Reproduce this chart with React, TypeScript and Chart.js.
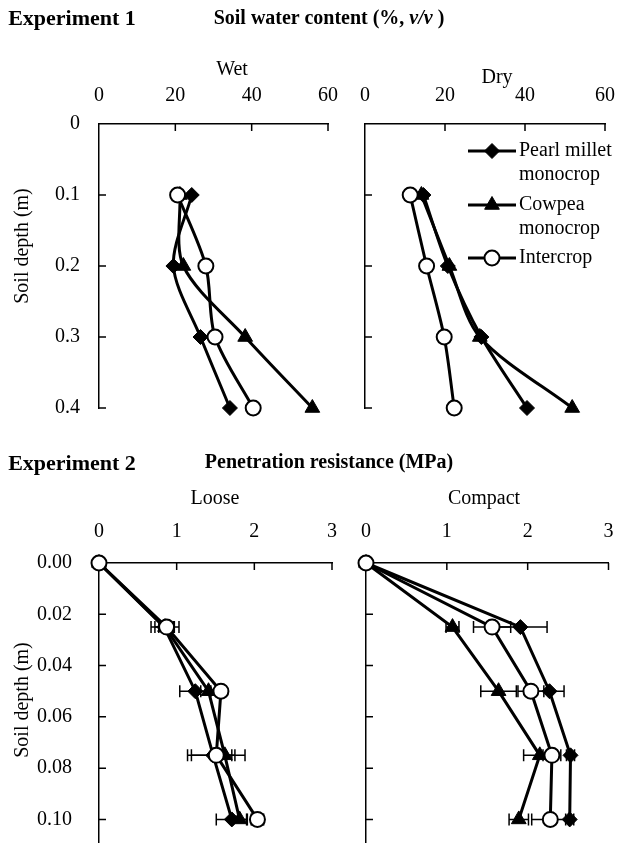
import React, { useEffect, useRef } from 'react';
import { Chart, registerables } from 'chart.js';

Chart.register(...registerables);

// ---------- DATA ----------
const seriesNames = ['Pearl millet monocrop', 'Cowpea monocrop', 'Intercrop'];
const legendLines = [['Pearl millet', 'monocrop'], ['Cowpea', 'monocrop'], ['Intercrop']];

// Experiment 1: soil water content (%, v/v) by depth (m)
const waterDepths = [0.1, 0.2, 0.3, 0.4];
const wetPearl = [24.3, 19.5, 26.6, 34.3];
const wetCowpea = [21.2, 22.1, 38.3, 55.9];
const wetInter = [20.6, 28.0, 30.4, 40.4];
const dryPearl = [14.6, 20.7, 29.1, 40.5];
const dryCowpea = [14.1, 21.1, 28.7, 51.8];
const dryInter = [11.3, 15.4, 19.8, 22.3];
const waterTicks = [0, 20, 40, 60];
const waterDepthTicks = [0, 0.1, 0.2, 0.3, 0.4];
const waterDepthLabels = ['0', '0.1', '0.2', '0.3', '0.4'];

// Experiment 2: penetration resistance (MPa) by depth (m)
const penDepths = [0, 0.025, 0.05, 0.075, 0.1];
const loosePearl = [0, 0.84, 1.24, 1.47, 1.71];
const looseCowpea = [0, 0.85, 1.41, 1.62, 1.81];
const looseInter = [0, 0.87, 1.57, 1.51, 2.04];
const loosePearlErr = [0, 0.12, 0.2, 0.28, 0.2];
const looseCowpeaErr = [0, 0.18, 0.1, 0.09, 0.09];
const looseInterErr = [0, 0.1, 0.05, 0.37, 0.08];
const compactPearl = [0, 1.91, 2.27, 2.53, 2.52];
const compactCowpea = [0, 1.07, 1.64, 2.15, 1.89];
const compactInter = [0, 1.56, 2.04, 2.3, 2.28];
const compactPearlErr = [0, 0.33, 0.18, 0.05, 0.05];
const compactCowpeaErr = [0, 0.08, 0.22, 0.2, 0.12];
const compactInterErr = [0, 0.23, 0.16, 0.11, 0.23];
const penTicks = [0, 1, 2, 3];
const penDepthTicks = [0, 0.02, 0.04, 0.06, 0.08, 0.1];
const penDepthLabels = ['0.00', '0.02', '0.04', '0.06', '0.08', '0.10'];

// ---------- STYLE ----------
const W = 618;
const H = 852;
const FONT = '"Liberation Serif", "Times New Roman", serif';

const markerStyles = [
  { pointStyle: 'rectRot', radius: 7.5, bg: '#000', bw: 1, order: 2 },
  { pointStyle: 'triangle', radius: 8.5, bg: '#000', bw: 1, order: 1 },
  { pointStyle: 'circle', radius: 7.5, bg: '#fff', bw: 2, order: 0 },
];

function drawMarker(ctx: CanvasRenderingContext2D, i: number, x: number, y: number) {
  const s = markerStyles[i];
  const r = s.radius;
  ctx.save();
  ctx.fillStyle = s.bg;
  ctx.strokeStyle = '#000';
  ctx.lineWidth = s.bw;
  ctx.beginPath();
  if (s.pointStyle === 'circle') {
    ctx.arc(x, y, r, 0, Math.PI * 2);
  } else if (s.pointStyle === 'rectRot') {
    ctx.moveTo(x, y - r);
    ctx.lineTo(x + r, y);
    ctx.lineTo(x, y + r);
    ctx.lineTo(x - r, y);
    ctx.closePath();
  } else {
    const h = r * 1.5;
    const half = (r * Math.sqrt(3)) / 2;
    ctx.moveTo(x, y - h * 0.6667);
    ctx.lineTo(x + half, y + h * 0.3333);
    ctx.lineTo(x - half, y + h * 0.3333);
    ctx.closePath();
  }
  ctx.fill();
  ctx.stroke();
  ctx.restore();
}

const innerTicksPlugin = {
  id: 'innerTicks',
  beforeDatasetsDraw(chart: any) {
    const { ctx, chartArea: a, scales } = chart;
    const x = scales.x;
    const y = scales.y;
    ctx.save();
    ctx.strokeStyle = '#000';
    ctx.lineWidth = 1.5;
    ctx.beginPath();
    x.ticks.forEach((t: any) => {
      if (t.value === x.min) return;
      const px = x.getPixelForValue(t.value);
      ctx.moveTo(px, a.top);
      ctx.lineTo(px, a.top + 7);
    });
    y.ticks.forEach((t: any) => {
      if (t.value === y.min) return;
      const py = y.getPixelForValue(t.value);
      ctx.moveTo(a.left, py);
      ctx.lineTo(a.left + 7, py);
    });
    ctx.stroke();
    ctx.restore();
  },
};

const errorBarsPlugin = {
  id: 'errorBars',
  beforeDatasetsDraw(chart: any) {
    const { ctx, scales } = chart;
    const x = scales.x;
    ctx.save();
    ctx.strokeStyle = '#000';
    ctx.lineWidth = 1.5;
    chart.data.datasets.forEach((ds: any, i: number) => {
      if (!ds.errors) return;
      const meta = chart.getDatasetMeta(i);
      ds.data.forEach((p: any, j: number) => {
        const e = ds.errors[j];
        if (!e) return;
        const py = meta.data[j].y;
        const x0 = x.getPixelForValue(p.x - e);
        const x1 = x.getPixelForValue(p.x + e);
        ctx.beginPath();
        ctx.moveTo(x0, py);
        ctx.lineTo(x1, py);
        ctx.moveTo(x0, py - 6);
        ctx.lineTo(x0, py + 6);
        ctx.moveTo(x1, py - 6);
        ctx.lineTo(x1, py + 6);
        ctx.stroke();
      });
    });
    ctx.restore();
  },
};

const legendPlugin = {
  id: 'customLegend',
  afterDraw(chart: any) {
    const opts = chart.options.plugins.customLegend;
    if (!opts || !opts.show) return;
    const { ctx, chartArea: a } = chart;
    const rows = [27, 81, 134];
    ctx.save();
    ctx.font = `20px ${FONT}`;
    ctx.fillStyle = '#000';
    ctx.textBaseline = 'middle';
    ctx.textAlign = 'left';
    legendLines.forEach((lines, i) => {
      const y = a.top + rows[i];
      const x0 = a.left + 103;
      const x1 = a.left + 151;
      ctx.strokeStyle = '#000';
      ctx.lineWidth = 3;
      ctx.beginPath();
      ctx.moveTo(x0, y);
      ctx.lineTo(x1, y);
      ctx.stroke();
      drawMarker(ctx, i, (x0 + x1) / 2, y);
      lines.forEach((t, k) => {
        ctx.fillText(t, a.left + 154, y + k * 24);
      });
    });
    ctx.restore();
  },
};

type Series = { x: number[]; y: number[]; err?: number[] };
type Panel = {
  series: Series[];
  xTicks: number[];
  yTicks: number[];
  yLabels: string[];
  xMax: number;
  yMax: number;
  area: { left: number; top: number; right: number; bottom: number };
  showYLabels: boolean;
  xPad: number;
  yPad: number;
  tension: number;
  legend?: boolean;
};

function buildConfig(p: Panel): any {
  const yAxisW = p.showYLabels ? p.area.left : 10;
  const xAxisTop = p.area.top > 300 ? 440 : 0;
  const xAxisH = p.area.top - xAxisTop;
  const zeroPad = (s: any) => {
    s.paddingLeft = 0;
    s.paddingRight = 0;
    s.paddingTop = 0;
    s.paddingBottom = 0;
  };
  const datasets = p.series.map((s, i) => ({
    label: seriesNames[i],
    data: s.x.map((v, j) => ({ x: v, y: s.y[j] })),
    errors: s.err,
    showLine: true,
    borderColor: '#000',
    borderWidth: 3,
    pointStyle: markerStyles[i].pointStyle,
    pointRadius: markerStyles[i].radius,
    pointBackgroundColor: markerStyles[i].bg,
    pointBorderColor: '#000',
    pointBorderWidth: markerStyles[i].bw,
    tension: p.tension,
    order: markerStyles[i].order,
    clip: false,
  }));
  return {
    type: 'scatter',
    data: { datasets },
    options: {
      animation: false,
      responsive: false,
      events: [],
      layout: {
        padding: {
          left: p.area.left - yAxisW,
          top: xAxisTop,
          right: W - p.area.right,
          bottom: H - p.area.bottom,
        },
      },
      plugins: {
        legend: { display: false },
        tooltip: { enabled: false },
        customLegend: { show: !!p.legend },
      },
      scales: {
        x: {
          type: 'linear',
          position: 'top',
          min: 0,
          max: p.xMax,
          grid: { display: false, drawTicks: false },
          border: { display: true, color: '#000', width: 1.5 },
          ticks: {
            color: '#000',
            font: { family: FONT, size: 20 },
            padding: p.xPad,
            maxRotation: 0,
          },
          afterBuildTicks: (s: any) => {
            s.ticks = p.xTicks.map((v) => ({ value: v }));
          },
          afterFit: (s: any) => {
            s.height = xAxisH;
            zeroPad(s);
          },
        },
        y: {
          type: 'linear',
          reverse: true,
          min: 0,
          max: p.yMax,
          grid: { display: false, drawTicks: false },
          border: { display: true, color: '#000', width: 1.5 },
          ticks: {
            display: p.showYLabels,
            color: '#000',
            font: { family: FONT, size: 20 },
            padding: p.yPad,
            callback: (_v: any, i: number) => p.yLabels[i],
          },
          afterBuildTicks: (s: any) => {
            s.ticks = p.yTicks.map((v) => ({ value: v }));
          },
          afterFit: (s: any) => {
            s.width = yAxisW;
            zeroPad(s);
          },
        },
      },
    },
    plugins: [innerTicksPlugin, errorBarsPlugin, legendPlugin],
  };
}

const panels: Panel[] = [
  {
    series: [
      { x: wetPearl, y: waterDepths },
      { x: wetCowpea, y: waterDepths },
      { x: wetInter, y: waterDepths },
    ],
    xTicks: waterTicks,
    yTicks: waterDepthTicks,
    yLabels: waterDepthLabels,
    xMax: 60,
    yMax: 0.4,
    area: { left: 99, top: 124, right: 328, bottom: 408 },
    showYLabels: true,
    xPad: 16,
    yPad: 19,
    tension: 0.3,
  },
  {
    series: [
      { x: dryPearl, y: waterDepths },
      { x: dryCowpea, y: waterDepths },
      { x: dryInter, y: waterDepths },
    ],
    xTicks: waterTicks,
    yTicks: waterDepthTicks,
    yLabels: waterDepthLabels,
    xMax: 60,
    yMax: 0.4,
    area: { left: 365, top: 124, right: 605, bottom: 408 },
    showYLabels: false,
    xPad: 16,
    yPad: 19,
    tension: 0.3,
    legend: true,
  },
  {
    series: [
      { x: loosePearl, y: penDepths, err: loosePearlErr },
      { x: looseCowpea, y: penDepths, err: looseCowpeaErr },
      { x: looseInter, y: penDepths, err: looseInterErr },
    ],
    xTicks: penTicks,
    yTicks: penDepthTicks,
    yLabels: penDepthLabels,
    xMax: 3,
    yMax: 0.109,
    area: { left: 99, top: 563, right: 332, bottom: 851 },
    showYLabels: true,
    xPad: 19,
    yPad: 27,
    tension: 0,
  },
  {
    series: [
      { x: compactPearl, y: penDepths, err: compactPearlErr },
      { x: compactCowpea, y: penDepths, err: compactCowpeaErr },
      { x: compactInter, y: penDepths, err: compactInterErr },
    ],
    xTicks: penTicks,
    yTicks: penDepthTicks,
    yLabels: penDepthLabels,
    xMax: 3,
    yMax: 0.109,
    area: { left: 366, top: 563, right: 610, bottom: 851 },
    showYLabels: false,
    xPad: 19,
    yPad: 27,
    tension: 0,
  },
];

function PanelCanvas({ panel }: { panel: Panel }) {
  const ref = useRef<HTMLCanvasElement | null>(null);
  useEffect(() => {
    if (!ref.current) return;
    const chart = new Chart(ref.current, buildConfig(panel));
    return () => chart.destroy();
  }, [panel]);
  return (
    <canvas
      ref={ref}
      width={W}
      height={H}
      style={{ position: 'absolute', left: 0, top: 0, width: W, height: H }}
    />
  );
}

const textBase: React.CSSProperties = {
  position: 'absolute',
  fontFamily: FONT,
  color: '#000',
  whiteSpace: 'nowrap',
  lineHeight: '24px',
};

function Label({ x, y, text, bold, size = 20, rotate, children }: any) {
  return (
    <div
      style={{
        ...textBase,
        left: x,
        top: y,
        fontSize: size,
        fontWeight: bold ? 'bold' : 'normal',
        transform: `translate(-50%, -50%)${rotate ? ' rotate(-90deg)' : ''}`,
      }}
    >
      {children ?? text}
    </div>
  );
}

export default function App() {
  return (
    <div
      style={{
        position: 'fixed',
        left: 0,
        top: 0,
        width: W,
        height: H,
        background: '#fff',
        overflow: 'hidden',
      }}
    >
      {panels.map((p, i) => (
        <PanelCanvas key={i} panel={p} />
      ))}
      <Label x={72} y={18} bold size={22} text="Experiment 1" />
      <Label x={329} y={17} bold size={20}>
        Soil water content (%, <i>v/v</i> )
      </Label>
      <Label x={232} y={68} text="Wet" />
      <Label x={497} y={76} text="Dry" />
      <Label x={21} y={246} rotate text="Soil depth (m)" />
      <Label x={72} y={463} bold size={22} text="Experiment 2" />
      <Label x={329} y={461} bold size={20} text="Penetration resistance (MPa)" />
      <Label x={215} y={497} text="Loose" />
      <Label x={484} y={497} text="Compact" />
      <Label x={21} y={700} rotate text="Soil depth (m)" />
    </div>
  );
}
